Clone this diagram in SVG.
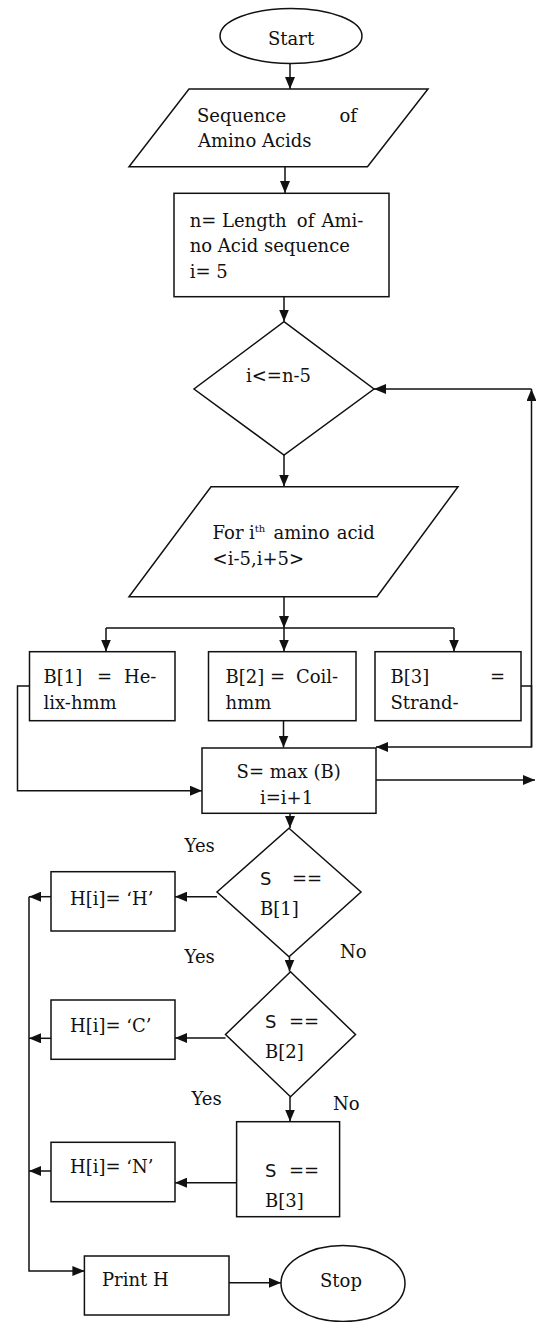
<svg xmlns="http://www.w3.org/2000/svg" width="536" height="1322" viewBox="0 0 536 1322">
<style>
.s{fill:#fff;stroke:#111;stroke-width:1.5}
.t{font-family:"DejaVu Serif","Liberation Serif",serif;font-size:18px;fill:#111}
.c{fill:none;stroke:#111;stroke-width:1.5}
.ss{font-family:"DejaVu Sans","Liberation Sans",sans-serif}
</style>
<defs>
<marker id="a" viewBox="0 0 12 10" refX="12" refY="5" markerWidth="12" markerHeight="10" markerUnits="userSpaceOnUse" orient="auto">
<path d="M0,0 L12,5 L0,10 z" fill="#111"/>
</marker>
</defs>
<rect width="536" height="1322" fill="#fff"/>
<g id="connectors">
<path class="c" d="M290,64 V89" marker-end="url(#a)"/>
<path class="c" d="M285,167 V193" marker-end="url(#a)"/>
<path class="c" d="M284,297 V321.5" marker-end="url(#a)"/>
<path class="c" d="M284,455 V486.5" marker-end="url(#a)"/>
<path class="c" d="M284,597 V628" marker-end="url(#a)"/>
<path class="c" d="M106,628 H454"/>
<path class="c" d="M106,628 V651.5" marker-end="url(#a)"/>
<path class="c" d="M284,628 V651.5" marker-end="url(#a)"/>
<path class="c" d="M454,628 V651.5" marker-end="url(#a)"/>
<path class="c" d="M283.5,721 V747.5" marker-end="url(#a)"/>
<path class="c" d="M29.5,686 H17.5 V790.7 H202" marker-end="url(#a)"/>
<path class="c" d="M521,686 H531.5 V747 H376" marker-end="url(#a)"/>
<path class="c" d="M376,780 H535" marker-end="url(#a)"/>
<path class="c" d="M531.5,747 V389" marker-end="url(#a)"/>
<path class="c" d="M531.5,389 H374" marker-end="url(#a)"/>
<path class="c" d="M290,813.5 V828" marker-end="url(#a)"/>
<path class="c" d="M217,896.7 H175" marker-end="url(#a)"/>
<path class="c" d="M51,896.7 H29" marker-end="url(#a)"/>
<path class="c" d="M289.5,956.7 V971.5" marker-end="url(#a)"/>
<path class="c" d="M225.5,1038 H175" marker-end="url(#a)"/>
<path class="c" d="M51,1038.3 H29" marker-end="url(#a)"/>
<path class="c" d="M290,1096.7 V1121.5" marker-end="url(#a)"/>
<path class="c" d="M236.6,1182.7 H175" marker-end="url(#a)"/>
<path class="c" d="M51,1171 H29" marker-end="url(#a)"/>
<path class="c" d="M29,896.7 V1271 H84.4" marker-end="url(#a)"/>
<path class="c" d="M229,1282.7 H281" marker-end="url(#a)"/>
</g>
<g id="start">
<ellipse class="s" cx="291" cy="36" rx="71" ry="27.5"/>
<text class="t" x="268" y="45">Start</text>
</g>
<g id="input">
<polygon class="s" points="189,89 428,89 367.5,166.7 129,166.7"/>
<text class="t" y="121.7"><tspan x="197">Sequence</tspan><tspan x="339.5">of</tspan></text>
<text class="t" x="198" y="146.7">Amino Acids</text>
</g>
<g id="init">
<rect class="s" x="174" y="193.3" width="215" height="103.4"/>
<text class="t" y="226.7"><tspan x="189.7">n=</tspan><tspan x="222">Length</tspan><tspan x="296.8">of</tspan><tspan x="321.4">Ami-</tspan></text>
<text class="t" x="189.7" y="252.3">no Acid sequence</text>
<text class="t" x="189.7" y="278.3">i= 5</text>
</g>
<g id="cond">
<polygon class="s" points="284,321.7 374,389 284,455 194,389"/>
<text class="t" x="246" y="381.7">i&lt;=n-5</text>
</g>
<g id="window">
<polygon class="s" points="211,486.7 458,486.7 377,596.7 129,596.7"/>
<text class="t" y="539"><tspan x="212.6">For</tspan><tspan x="249">i</tspan><tspan font-size="10" dy="-7">th</tspan><tspan x="273.5" dy="7">amino</tspan><tspan x="336.8">acid</tspan></text>
<text class="t" x="212.6" y="565">&lt;i-5,i+5&gt;</text>
</g>
<g id="b1">
<rect class="s" x="29.5" y="651.7" width="145.5" height="69"/>
<text class="t" y="683.3"><tspan x="43.5">B[1]</tspan><tspan x="97">=</tspan><tspan x="124">He-</tspan></text>
<text class="t" x="43.5" y="709">lix-hmm</text>
</g>
<g id="b2">
<rect class="s" x="208.5" y="651.7" width="147.5" height="69"/>
<text class="t" y="683.3"><tspan x="225.6">B[2]</tspan><tspan x="270">=</tspan><tspan x="296">Coil-</tspan></text>
<text class="t" x="225.6" y="709">hmm</text>
</g>
<g id="b3">
<rect class="s" x="375" y="651.7" width="146" height="69"/>
<text class="t" y="683.3"><tspan x="390.5">B[3]</tspan><tspan x="490">=</tspan></text>
<text class="t" x="390.5" y="709">Strand-</text>
</g>
<g id="smax">
<rect class="s" x="202" y="748" width="174" height="65.3"/>
<text class="t" x="236.6" y="778.3">S= max (B)</text>
<text class="t" x="260" y="804">i=i+1</text>
</g>
<g id="d2">
<polygon class="s" points="289,828.3 361,892 289,956.7 217,892"/>
<text class="t" y="885"><tspan class="ss" x="260">S</tspan><tspan x="292">==</tspan></text>
<text class="t" x="260" y="915">B[1]</text>
</g>
<g id="hH">
<rect class="s" x="51" y="871.7" width="124" height="59.3"/>
<text class="t" x="70" y="905">H[i]= ‘H’</text>
</g>
<g id="d3">
<polygon class="s" points="290.5,971.7 355.5,1034.5 290.5,1096.7 225.5,1034.5"/>
<text class="t" y="1028.3"><tspan class="ss" x="265">S</tspan><tspan x="289">==</tspan></text>
<text class="t" x="265" y="1058.3">B[2]</text>
</g>
<g id="hC">
<rect class="s" x="51" y="1000" width="124" height="59.3"/>
<text class="t" x="70" y="1031.7">H[i]= ‘C’</text>
</g>
<g id="d4">
<rect class="s" x="236.6" y="1121.7" width="103" height="95"/>
<text class="t" y="1176.7"><tspan class="ss" x="265">S</tspan><tspan x="289">==</tspan></text>
<text class="t" x="265" y="1206.7">B[3]</text>
</g>
<g id="hN">
<rect class="s" x="51" y="1142.3" width="124" height="59.4"/>
<text class="t" x="70" y="1173.3">H[i]= ‘N’</text>
</g>
<g id="print">
<rect class="s" x="84.4" y="1256" width="144.6" height="59"/>
<text class="t" x="102" y="1286">Print H</text>
</g>
<g id="stop">
<ellipse class="s" cx="343" cy="1283.5" rx="62" ry="38"/>
<text class="t" x="320" y="1287">Stop</text>
</g>
<g id="labels">
<text class="t" x="184.6" y="851.7">Yes</text>
<text class="t" x="184.6" y="962.7">Yes</text>
<text class="t" x="340" y="958.3">No</text>
<text class="t" x="191.5" y="1105">Yes</text>
<text class="t" x="333" y="1110">No</text>
</g>
</svg>
